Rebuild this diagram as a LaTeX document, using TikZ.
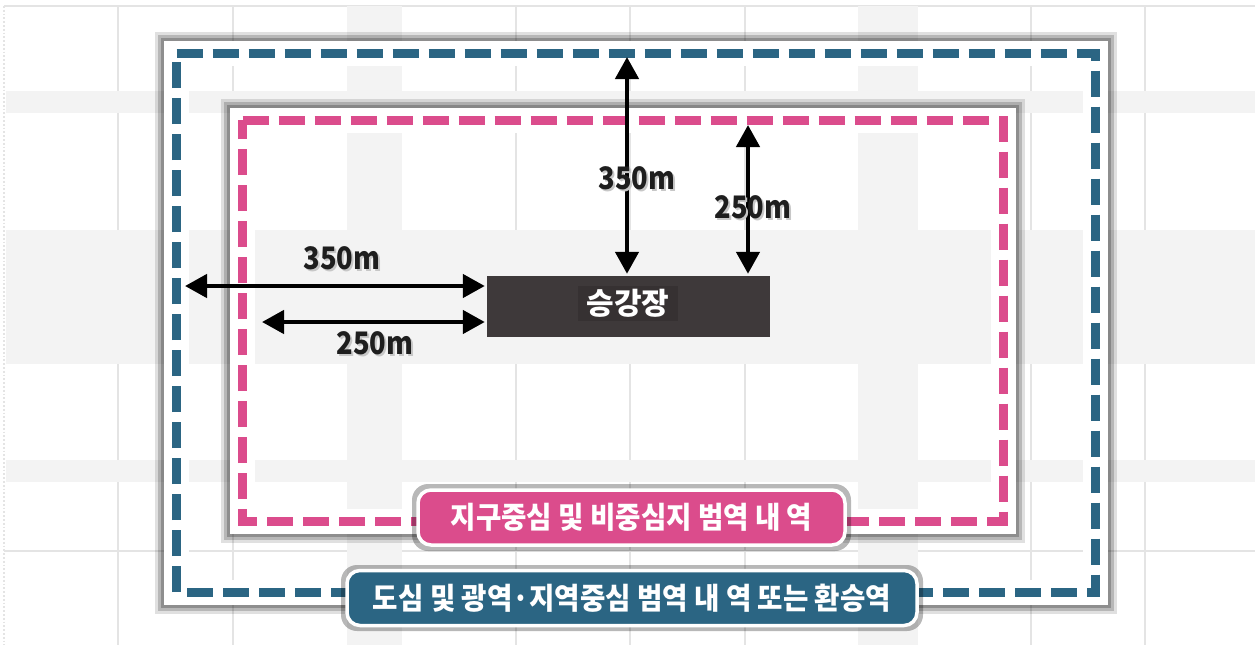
\documentclass[tikz,border=0pt]{standalone}
\usepackage{fontspec}
\newfontfamily\kr{Noto Sans CJK KR}
\newfontfamily\krtag[FakeStretch=0.92]{Noto Sans CJK KR}
\newfontfamily\krdim[FakeStretch=0.88]{Noto Sans CJK KR}
\usetikzlibrary{arrows.meta,calc}
\definecolor{bluec}{RGB}{43,101,131}
\definecolor{pinkc}{RGB}{219,76,140}
\definecolor{streetc}{RGB}{243,243,243}
\definecolor{gridc}{RGB}{228,228,228}
\definecolor{darkbox}{RGB}{62,57,58}
\definecolor{darkboxtext}{RGB}{54,49,50}
\definecolor{dimtext}{RGB}{30,30,30}
\tikzset{
  gridline/.style={draw=gridc, line width=1.8pt},
  streetbox/.style={fill=streetc},
  shadowA/.style={draw=black, opacity=0.12, line width=18pt},
  shadowB/.style={draw=black, opacity=0.18, line width=12pt},
  shadowC/.style={draw=black, opacity=0.22, line width=6pt},
  whiteframe/.style={draw=white, line width=25pt},
  bluedash/.style={draw=bluec, line width=9pt, dash pattern=on 26pt off 10pt},
  pinkdash/.style={draw=pinkc, line width=9pt, dash pattern=on 26pt off 10pt},
  measure/.style={draw=black, line width=4.5pt, shorten >=2pt,
    {Triangle[length=22pt,width=23pt]}-{Triangle[length=22pt,width=23pt]}},
  dimlabel/.style={font=\krdim\bfseries\fontsize{31pt}{33pt}\selectfont, text=dimtext, inner sep=0pt},
  dimshadow/.style={font=\krdim\bfseries\fontsize{31pt}{33pt}\selectfont, text=black!22, inner sep=0pt},
  tagbox/.style={rounded corners=13pt, draw=white, line width=3.5pt, text=white,
    font=\krtag\bfseries\fontsize{30pt}{32pt}\selectfont, minimum height=55pt, inner sep=0pt},
  tagshadow/.style={fill=black, opacity=0.28, rounded corners=16pt},
  stationbox/.style={fill=darkbox, minimum width=283pt, minimum height=61pt, inner sep=0pt},
  stationtext/.style={fill=darkboxtext, text=white, minimum width=100pt, minimum height=35pt,
    inner sep=0pt, font=\kr\bfseries\fontsize{30pt}{32pt}\selectfont},
}
\begin{document}
\begin{tikzpicture}[x=1pt,y=-1pt]
\useasboundingbox (0,0) rectangle (1259,645);
% ---------- background city grid ----------
\fill[white] (0,0) rectangle (1259,645);
\foreach \x in {118,233,516,630,745,1031,1145}
  \draw[gridline] (\x,6) -- (\x,645);
\draw[gridline] (4,6) -- (1255,6);
\draw[gridline] (4,551) -- (1255,551);
\draw[gridline, dotted] (4,6) -- (4,645);
\fill[streetbox] (347,6) rectangle (402,645);
\fill[streetbox] (858,6) rectangle (918,645);
\fill[streetbox] (6,91) rectangle (1255,113);
\fill[streetbox] (6,230) rectangle (1255,364);
\fill[streetbox] (6,460) rectangle (1255,482);
% ---------- outer (blue) frame ----------
\draw[shadowA] (164,40.5) rectangle (1107.5,604.5);
\draw[shadowB] (164,40.5) rectangle (1107.5,604.5);
\draw[shadowC] (164,40.5) rectangle (1107.5,604.5);
\draw[whiteframe] (176.5,53) rectangle (1095,592);
% ---------- inner (pink) frame ----------
\draw[shadowA] (230,107.5) rectangle (1015.5,533.5);
\draw[shadowB] (230,107.5) rectangle (1015.5,533.5);
\draw[shadowC] (230,107.5) rectangle (1015.5,533.5);
\draw[whiteframe] (242.5,120) rectangle (1003,521);
% ---------- dashed boundaries ----------
\draw[bluedash] (176.5,53) -- (1095,53) -- (1095,592) -- (176.5,592) -- cycle;
\draw[pinkdash] (242.5,120) -- (1003,120) -- (1003,521) -- (242.5,521) -- cycle;
% ---------- station ----------
\node[stationbox] (station) at (628.5,306.5) {};
\node[stationtext] (stationlabel) at (628,303) {승강장};
% ---------- measurement arrows ----------
\coordinate (topA) at (627,57);
\coordinate (topB) at (748,125);
\coordinate (leftA) at (185,286);
\coordinate (leftB) at (262,322);
\draw[measure] (topA) -- (topA |- station.north);
\draw[measure] (topB) -- (topB |- station.north);
\draw[measure] (leftA) -- (leftA -| station.west);
\draw[measure] (leftB) -- (leftB -| station.west);
% ---------- distance labels ----------
\node[dimshadow] at (344,260) {350m};
\node[dimlabel] (lblA) at (342,258) {350m};
\node[dimshadow] at (377,345) {250m};
\node[dimlabel] (lblB) at (375,343) {250m};
\node[dimshadow] at (639,180) {350m};
\node[dimlabel] (lblC) at (637,178) {350m};
\node[dimshadow] at (755,209) {250m};
\node[dimlabel] (lblD) at (753,207) {250m};
% ---------- zone tags ----------
\fill[tagshadow] (412,484) rectangle (851,551);
\node[tagbox, fill=pinkc, minimum width=427pt] (tagpink) at (631.5,517.5) {지구중심 및 비중심지 범역 내 역};
\fill[tagshadow] (341,565) rectangle (923,631);
\node[tagbox, fill=bluec, minimum width=570pt] (tagblue) at (632,598) {도심 및 광역·지역중심 범역 내 역 또는 환승역};
\end{tikzpicture}
\end{document}
